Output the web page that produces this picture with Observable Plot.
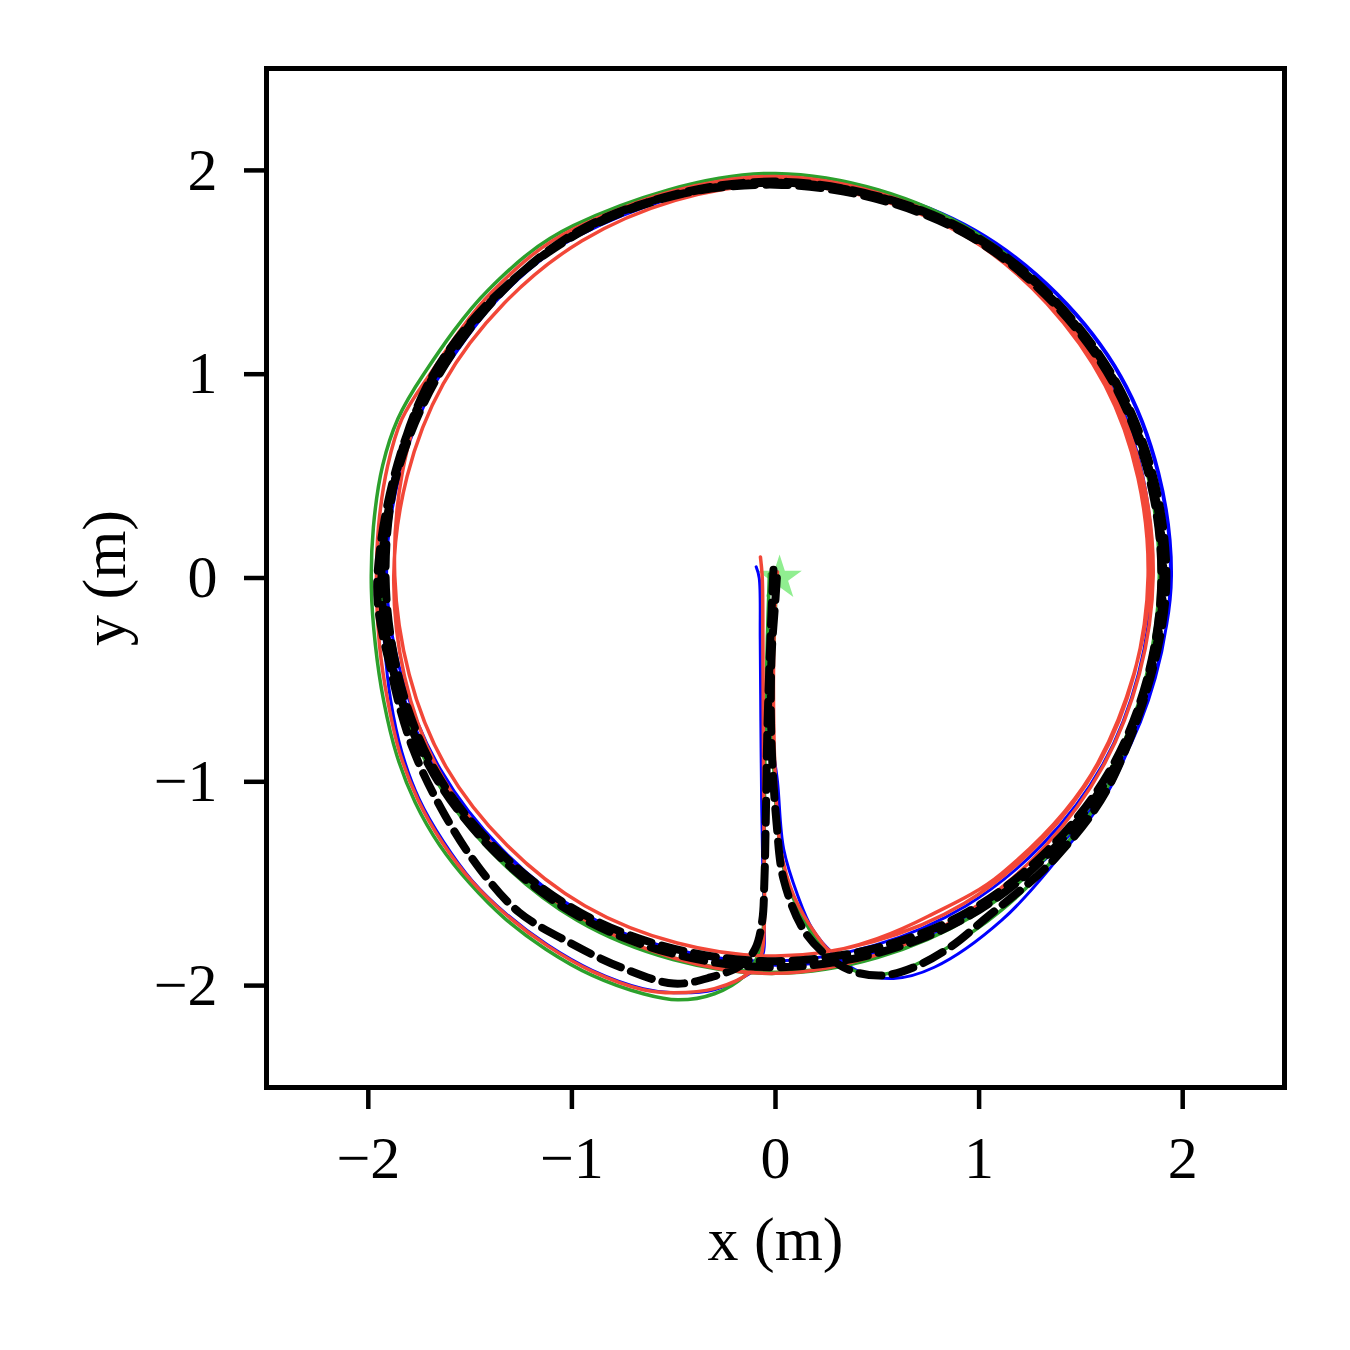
<!DOCTYPE html>
<html>
<head>
<meta charset="utf-8">
<script src="https://cdn.jsdelivr.net/npm/d3@7"></script>
<script src="https://cdn.jsdelivr.net/npm/@observablehq/plot@0.6"></script>
<style>
  html, body { margin: 0; padding: 0; background: #ffffff; }
  #chart { width: 1350px; height: 1350px; }
</style>
</head>
<body>
<div id="chart"></div>
<script>
// ---- Data (metres) ----
const xTicks = [-2, -1, 0, 1, 2];
const yTicks = [-2, -1, 0, 1, 2];

const blueX = [-0.095, -0.08, -0.075, -0.072, -0.068, -0.062, -0.055, -0.06, -0.1, -0.16, -0.3, -0.5,
  -0.65, -0.9, -1.12, -1.32, -1.49, -1.63, -1.75, -1.835, -1.89, -1.92, -1.93, -1.915, -1.865, -1.79,
  -1.663, -1.361, -0.965, 0, 0.978, 1.693, 1.94, 1.671, 0.96, 0, -0.953, -1.645, -1.91,
  -1.663, -0.968, 0, 0.97, 1.645, 1.85, 1.606, 0.935, 0, -0.955, -1.663, -1.925,
  -1.671, -0.97, 0, 0.98, 1.697, 1.945, 1.68, 1.4, 1.11, 0.78, 0.58, 0.42, 0.28, 0.18, 0.11, 0.04, 0.01, -0.015, -0.015, 0.0, 0.01];
const blueY = [0.055, 0.0, -0.3, -0.7, -1.1, -1.45, -1.7, -1.84, -1.92, -1.96, -2.02, -2.035,
  -2.015, -1.925, -1.8, -1.65, -1.485, -1.295, -1.085, -0.855, -0.6, -0.33, -0.05, 0.25, 0.55, 0.77,
  0.97, 1.371, 1.681, 1.955, 1.703, 0.988, 0.01, -0.955, -1.653, -1.90, -1.64, -0.94, 0.01,
  0.97, 1.686, 1.95, 1.69, 0.96, 0.01, -0.918, -1.609, -1.88, -1.644, -0.95, 0.01,
  0.975, 1.69, 1.96, 1.707, 0.99, 0.01, -0.96, -1.36, -1.68, -1.91, -1.965, -1.935, -1.84, -1.72, -1.56, -1.33, -1.0, -0.8, -0.4, -0.1, 0.03];

const greenX = [-0.03, -0.04, -0.05, -0.055, -0.055, -0.06, -0.09, -0.15, -0.3, -0.48,
  -0.65, -0.9, -1.13, -1.33, -1.5, -1.65, -1.77, -1.86, -1.925, -1.965, -1.985, -1.975, -1.93, -1.855,
  -1.728, -1.407, -0.993, 0, 0.975, 1.658, 1.885, 1.645, 0.965, 0, -0.975, -1.684, -1.94,
  -1.68, -0.97, 0, 0.965, 1.654, 1.90, 1.654, 0.965, 0, -0.97, -1.676, -1.935,
  -1.68, -0.973, 0, 0.968, 1.663, 1.91, 1.667, 1.39, 1.11, 0.8, 0.6, 0.45, 0.33, 0.27, 0.17, 0.06, 0.02, -0.01, -0.015, 0.0, 0.0];
const greenY = [0.02, -0.3, -0.75, -1.2, -1.5, -1.72, -1.86, -1.95, -2.04, -2.07,
  -2.04, -1.95, -1.82, -1.67, -1.5, -1.31, -1.1, -0.87, -0.6, -0.33, -0.05, 0.25, 0.55, 0.78,
  1.0, 1.417, 1.729, 1.985, 1.699, 0.968, 0.01, -0.94, -1.661, -1.94, -1.679, -0.963, 0.01,
  0.98, 1.69, 1.95, 1.681, 0.965, 0.01, -0.945, -1.661, -1.935, -1.67, -0.958, 0.01,
  0.98, 1.694, 1.955, 1.686, 0.97, 0.01, -0.953, -1.35, -1.63, -1.84, -1.93, -1.945, -1.9, -1.86, -1.73, -1.5, -1.3, -0.9, -0.5, -0.15, 0.02];

const redX = [-0.074, -0.065, -0.062, -0.06, -0.058, -0.055, -0.055, -0.07, -0.12, -0.3, -0.5,
  -0.65, -0.9, -1.12, -1.32, -1.49, -1.635, -1.755, -1.845, -1.905, -1.945, -1.96, -1.95, -1.905, -1.835,
  -1.702, -1.393, -0.985, 0, 0.968, 1.637, 1.855, 1.611, 0.95, 0, -0.965, -1.654, -1.875,
  -1.632, -0.95, 0, 0.955, 1.619, 1.83, 1.589, 0.928, 0, -0.935, -1.619, -1.87,
  -1.68, -0.978, 0, 0.963, 1.628, 1.84, 1.585, 1.11, 0.75, 0.5, 0.33, 0.27, 0.2, 0.09, 0.025, 0.0, -0.01, 0.0, 0.01];
const redY = [0.103, 0.0, -0.3, -0.7, -1.1, -1.45, -1.7, -1.85, -1.93, -2.015, -2.035,
  -2.02, -1.93, -1.805, -1.655, -1.49, -1.3, -1.09, -0.86, -0.6, -0.33, -0.05, 0.25, 0.55, 0.78,
  0.993, 1.403, 1.716, 1.97, 1.686, 0.955, 0.01, -0.92, -1.635, -1.94, -1.661, -0.945, 0.01,
  0.953, 1.655, 1.93, 1.664, 0.945, 0.01, -0.908, -1.596, -1.855, -1.609, -0.925, 0.01,
  0.98, 1.703, 1.965, 1.677, 0.95, 0.01, -0.905, -1.45, -1.66, -1.77, -1.82, -1.83, -1.75, -1.56, -1.33, -1.0, -0.5, -0.1, 0.03];

const refX = [-0.01, -0.025, -0.04, -0.048, -0.055, -0.065, -0.1, -0.17, -0.32, -0.5, -0.76, -1.01, -1.26, -1.45, -1.62, -1.78, -1.88, -1.955,
  -1.684, -0.973, 0, 0.965, 1.663, 1.905, 1.654, 0.96, 0, -0.965, -1.68, -1.935,
  -1.667, -0.975, 0, 0.96, 1.654, 1.895, 1.645, 0.95, 0, -0.955, -1.667, -1.915,
  -1.689, -0.97, 0, 0.968, 1.667, 1.92, 1.671, 1.379, 1.02, 0.86, 0.68, 0.53, 0.38, 0.26, 0.14, 0.04, 0.005, -0.02, -0.02, 0.0, 0.01];
const refY = [0.04, -0.3, -0.75, -1.2, -1.5, -1.68, -1.82, -1.9, -1.96, -1.99, -1.91, -1.79, -1.64, -1.43, -1.17, -0.84, -0.49, 0.01,
  0.983, 1.694, 1.945, 1.681, 0.97, 0.01, -0.945, -1.653, -1.91, -1.661, -0.96, 0.01,
  0.973, 1.699, 1.93, 1.673, 0.965, 0.01, -0.94, -1.635, -1.88, -1.644, -0.953, 0.01,
  0.985, 1.69, 1.94, 1.686, 0.973, 0.01, -0.955, -1.369, -1.68, -1.81, -1.91, -1.95, -1.93, -1.86, -1.73, -1.48, -1.2, -0.8, -0.4, -0.1, 0.05];

const goalX = [0.02];
const goalY = [0];

// ---- Build tables ----
const rows = (xs, ys) => xs.map((x, i) => ({x, y: ys[i]}));
const blue = rows(blueX, blueY);
const green = rows(greenX, greenY);
const red = rows(redX, redY);
const ref = rows(refX, refY);
const goal = rows(goalX, goalY);

const fmt = d => (d < 0 ? "\u2212" + Math.abs(d) : String(d));
const serif = "'Liberation Serif', 'Times New Roman', Times, serif";

const chart = Plot.plot({
  width: 1350,
  height: 1350,
  marginLeft: 266,
  marginRight: 66,
  marginTop: 68,
  marginBottom: 263,
  style: {fontFamily: serif, fontSize: "60px", background: "#ffffff", color: "#000000"},
  x: {domain: [-2.5, 2.5]},
  y: {domain: [-2.5, 2.5]},
  marks: [
    Plot.dot(goal, {x: "x", y: "y", symbol: "star", r: 14, fill: "#90ee90", stroke: "none"}),
    Plot.line(blue, {x: "x", y: "y", stroke: "#0000ff", strokeWidth: 3, curve: "catmull-rom"}),
    Plot.line(green, {x: "x", y: "y", stroke: "#2ca02c", strokeWidth: 3.5, curve: "catmull-rom"}),
    Plot.line(red, {x: "x", y: "y", stroke: "#f24738", strokeWidth: 3.5, curve: "catmull-rom"}),
    Plot.line(ref, {x: "x", y: "y", stroke: "#000000", strokeWidth: 8, strokeDasharray: "22,11", curve: "catmull-rom"}),
    Plot.frame({stroke: "#000000", strokeWidth: 5}),
    Plot.axisX({ticks: xTicks, tickFormat: fmt, tickSize: 22, tickPadding: 26, strokeWidth: 4.5, fontSize: 60, label: null}),
    Plot.axisY({ticks: yTicks, tickFormat: fmt, tickSize: 22, tickPadding: 27, strokeWidth: 4.5, fontSize: 60, label: null}),
    Plot.text(["x (m)"], {frameAnchor: "bottom", text: d => d, dy: 153, textAnchor: "middle", lineAnchor: "middle", fontSize: 62, fill: "#000000"}),
    Plot.text(["y (m)"], {frameAnchor: "left", text: d => d, dx: -161, rotate: -90, textAnchor: "middle", lineAnchor: "middle", fontSize: 62, fill: "#000000"})
  ]
});
document.getElementById("chart").appendChild(chart);
</script>
</body>
</html>
